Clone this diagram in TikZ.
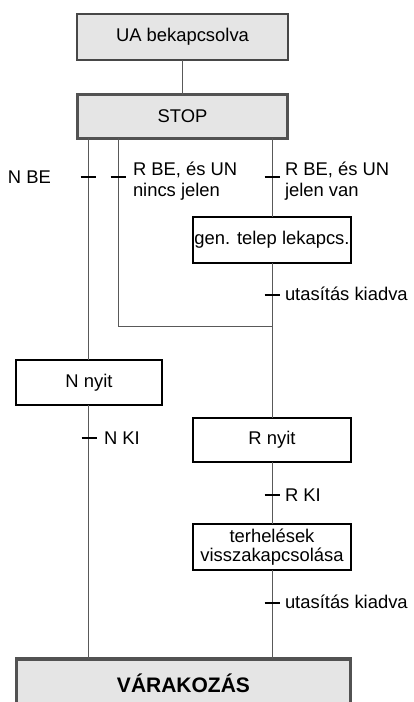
\documentclass[tikz,border=0pt]{standalone}
\usepackage{fontspec}
\setmainfont{Liberation Sans}
\begin{document}
\begin{tikzpicture}[x=1pt,y=-1pt,
  every node/.style={font=\fontsize{18.4}{21.5}\selectfont, inner sep=0pt, outer sep=0pt},
  graybox/.style={draw=black!72, fill=black!10, line width=1.6pt},
  heavybox/.style={draw=black!68, fill=black!10, line width=3.2pt},
  whitebox/.style={draw=black, fill=white, line width=1.8pt, align=center},
  conn/.style={draw=black!65, line width=1pt},
  tick/.style={draw=black, line width=1.6pt},
  lbl/.style={anchor=west, align=left}]
\useasboundingbox (0,0) rectangle (413,702);

\coordinate (xN) at (88,0);
\coordinate (xM) at (118,0);
\coordinate (J) at (272,326);
\coordinate (Jl) at (118,326);

% boxes
\node[graybox, minimum width=211.4pt, minimum height=46.4pt] (UA) at (182.5,37) {UA bekapcsolva};
\node[heavybox, minimum width=209.8pt, minimum height=43.8pt] (STOP) at (182.5,116.5) {STOP};
\node[whitebox, minimum width=158.2pt, minimum height=46.2pt] (gen) at (272,240) {gen. telep lekapcs.};
\node[whitebox, minimum width=146.2pt, minimum height=45.2pt] (Nnyit) at (89,382.5) {N nyit};
\node[whitebox, minimum width=158.2pt, minimum height=44.2pt] (Rnyit) at (272,440) {R nyit};
\node[whitebox, minimum width=158.2pt, minimum height=46.2pt, font=\fontsize{18.4}{18.8}\selectfont] (terh) at (272,547) {terhelések\\visszakapcsolása};
\node[heavybox, minimum width=333.8pt, minimum height=48pt, font=\fontsize{21}{24}\selectfont\bfseries] (VAR) at (183.5,683) {VÁRAKOZÁS};

% connectors
\draw[conn] (UA.south) -- (STOP.north);
\draw[conn] (xN |- STOP.south) -- (xN |- Nnyit.north);
\draw[conn] (xN |- Nnyit.south) -- (xN |- VAR.north);
\draw[conn] (xM |- STOP.south) -- (Jl) -- (J);
\draw[conn] (gen.north |- STOP.south) -- (gen.north);
\draw[conn] (gen.south) -- (Rnyit.north);
\draw[conn] (Rnyit.south) -- (terh.north);
\draw[conn] (terh.south) -- (terh.south |- VAR.north);

% transitions (ticks)
\coordinate (t1) at (88,177);
\coordinate (t2) at (118,177);
\coordinate (t3) at (272,177);
\coordinate (t4) at (272,295);
\coordinate (t5) at (89,438);
\coordinate (t6) at (272,495);
\coordinate (t7) at (272,603);
\foreach \t in {t1,t2,t3,t4,t5,t6,t7}
  \draw[tick] (\t) +(-7.5,0) -- +(7.5,0);

% labels
\node[lbl] (lNBE) at (8,177) {N BE};
\node[lbl] (lRBE1) at (133,181) {R BE, és UN\\nincs jelen};
\node[lbl] (lRBE2) at (285,181) {R BE, és UN\\jelen van};
\node[lbl] (lut1) at (285,294) {utasítás kiadva};
\node[lbl] (lNKI) at (104,438) {N KI};
\node[lbl] (lRKI) at (285,495) {R KI};
\node[lbl] (lut2) at (285,602) {utasítás kiadva};
\end{tikzpicture}
\end{document}
